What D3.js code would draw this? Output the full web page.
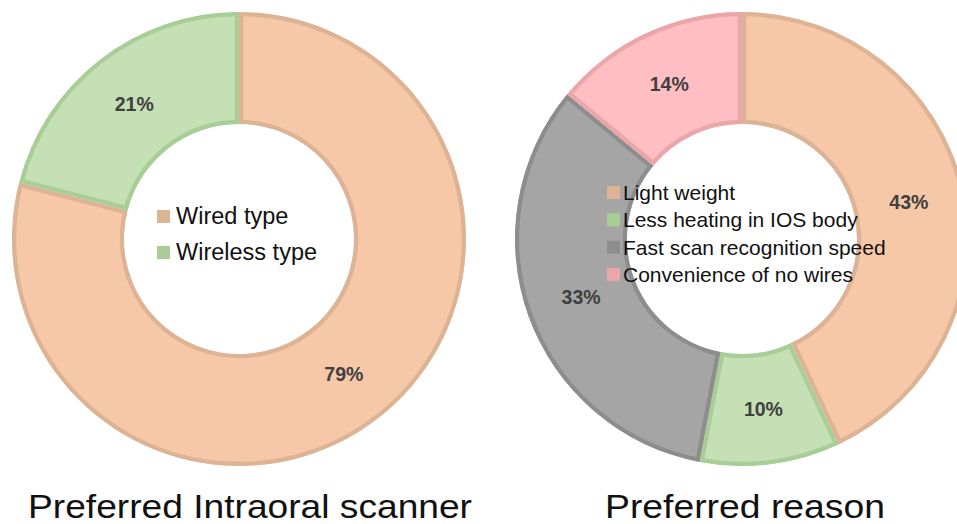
<!DOCTYPE html>
<html>
<head>
<meta charset="utf-8">
<script src="https://cdn.jsdelivr.net/npm/d3@7"></script>
<style>
  html, body { margin: 0; padding: 0; background: #fff; }
  svg { display: block; }
</style>
</head>
<body>
<svg id="chart" width="957" height="524"></svg>
<script>
// Survey answers, in percent
const scannerCategories = ["Wired type", "Wireless type"];
const scannerValues = [79, 21];

const reasonCategories = ["Light weight", "Less heating in IOS body", "Fast scan recognition speed", "Convenience of no wires"];
const reasonValues = [43, 10, 33, 14];

const scannerTitle = "Preferred Intraoral scanner";
const reasonTitle = "Preferred reason";

// Slice fills and their darker outlines
const fills = {
  "Wired type": "#F6C8A8", "Wireless type": "#C5E0B4",
  "Light weight": "#F6C8A8", "Less heating in IOS body": "#C5E0B4",
  "Fast scan recognition speed": "#A5A5A5", "Convenience of no wires": "#FFBEC1"
};
const outlines = {
  "Wired type": "#DDB395", "Wireless type": "#A9CD97",
  "Light weight": "#DDB395", "Less heating in IOS body": "#A9CD97",
  "Fast scan recognition speed": "#8D8D8D", "Convenience of no wires": "#EBA6AA"
};

const svg = d3.select("#chart");
const defs = svg.append("defs");
const outerR = 227, innerR = 115;

const arc = d3.arc().innerRadius(innerR).outerRadius(outerR);
const labelArc = d3.arc().innerRadius((innerR + outerR) / 2).outerRadius((innerR + outerR) / 2);
const pie = d3.pie().sort(null).value(d => d.value);

function donut(id, cx, cy, cats, vals, legend) {
  const data = cats.map((c, i) => ({ name: c, value: vals[i] }));
  const g = svg.append("g").attr("transform", `translate(${cx},${cy})`);
  const arcs = pie(data);

  arcs.forEach((a, i) => {
    const clipId = `${id}-clip-${i}`;
    defs.append("clipPath").attr("id", clipId)
      .append("path").attr("d", arc(a));
    // inner border: stroke clipped to the slice itself
    g.append("path")
      .attr("d", arc(a))
      .attr("clip-path", `url(#${clipId})`)
      .attr("fill", fills[a.data.name])
      .attr("stroke", outlines[a.data.name])
      .attr("stroke-width", 8.5);
  });

  arcs.forEach(a => {
    const [x, y] = labelArc.centroid(a);
    g.append("text")
      .attr("x", x).attr("y", y)
      .attr("text-anchor", "middle")
      .attr("dominant-baseline", "central")
      .attr("font-family", "Liberation Sans, Arial, sans-serif")
      .attr("font-weight", "bold")
      .attr("font-size", 19.5)
      .attr("fill", "#404040")
      .text(d3.format(".0f")(a.data.value) + "%");
  });

  // legend inside the hole
  const leg = svg.append("g");
  cats.forEach((c, i) => {
    const base = legend.y0 + i * legend.step;
    leg.append("rect")
      .attr("x", legend.x).attr("y", base - legend.box - 1)
      .attr("width", legend.box).attr("height", legend.box)
      .attr("fill", outlines[c]);
    leg.append("text")
      .attr("x", legend.x + legend.box + legend.gap).attr("y", base)
      .attr("font-family", "Liberation Sans, Arial, sans-serif")
      .attr("font-size", legend.size)
      .attr("fill", "#111")
      .text(c);
  });
}

donut("scanner", 239, 239, scannerCategories, scannerValues,
  { x: 157, y0: 224, step: 36, box: 13, gap: 6, size: 23.5 });
donut("reason", 742, 239, reasonCategories, reasonValues,
  { x: 607, y0: 200, step: 27.3, box: 13, gap: 3, size: 21 });

// panel titles
[[scannerTitle, 250, 444], [reasonTitle, 745, 280]].forEach(([t, x, w]) => {
  svg.append("text")
    .attr("x", x).attr("y", 518)
    .attr("text-anchor", "middle")
    .attr("font-family", "Liberation Sans, Arial, sans-serif")
    .attr("font-size", 33)
    .attr("fill", "#111")
    .attr("textLength", w)
    .attr("lengthAdjust", "spacingAndGlyphs")
    .text(t);
});
</script>
</body>
</html>
